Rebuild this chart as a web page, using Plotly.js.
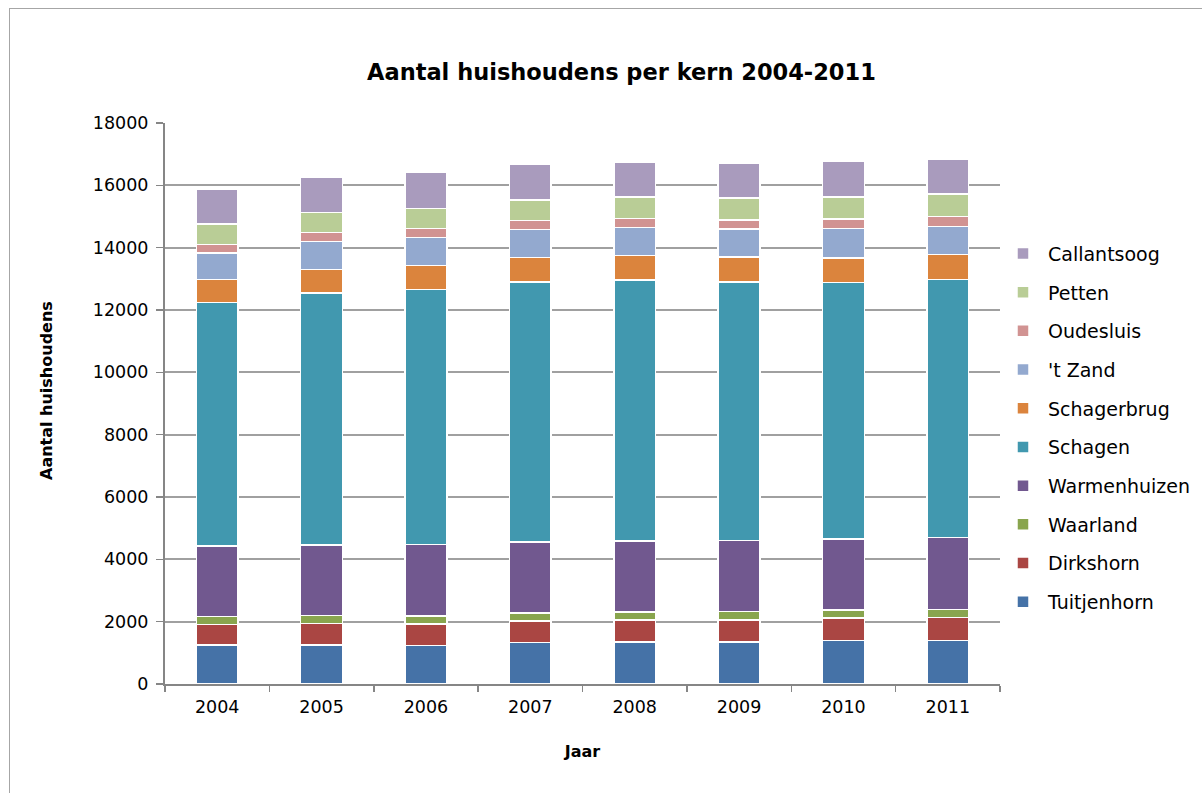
<!DOCTYPE html>
<html>
<head>
<meta charset="utf-8">
<script src="https://cdn.plot.ly/plotly-3.0.1.min.js"></script>
<style>
  html, body { margin: 0; padding: 0; background: #fff; }
  #frame { position: absolute; left: 9px; top: 8px; width: 1300px; height: 900px; border: 1px solid #a6a6a6; box-sizing: border-box; }
  #chart { position: absolute; left: 0; top: 0; width: 1202px; height: 793px; }
</style>
</head>
<body>
<div id="frame"></div>
<div id="chart"></div>
<script>
const years = ['2004', '2005', '2006', '2007', '2008', '2009', '2010', '2011'];

const tuitjenhorn  = [1251, 1251, 1230, 1326, 1348, 1348, 1390, 1390];
const dirkshorn    = [664, 685, 695, 695, 706, 706, 728, 738];
const waarland     = [245, 257, 257, 257, 256, 267, 256, 268];
const warmenhuizen = [2268, 2267, 2299, 2278, 2278, 2278, 2278, 2310];
const schagen      = [7807, 8086, 8171, 8343, 8375, 8300, 8236, 8267];
const schagerbrug  = [738, 759, 771, 780, 780, 802, 781, 803];
const tZand        = [856, 888, 898, 899, 899, 898, 941, 909];
const oudesluis    = [279, 300, 289, 299, 288, 289, 310, 310];
const petten       = [652, 641, 653, 653, 696, 706, 706, 727];
const callantsoog  = [1113, 1123, 1143, 1155, 1123, 1123, 1133, 1123];

const seriesNames  = ['Tuitjenhorn', 'Dirkshorn', 'Waarland', 'Warmenhuizen', 'Schagen', 'Schagerbrug', "'t Zand", 'Oudesluis', 'Petten', 'Callantsoog'];
const seriesValues = [tuitjenhorn, dirkshorn, waarland, warmenhuizen, schagen, schagerbrug, tZand, oudesluis, petten, callantsoog];
const seriesColors = ['#4572A7', '#AA4643', '#89A54E', '#71588F', '#4198AF', '#DB843D', '#93A9CF', '#D19392', '#B9CD96', '#A99BBD'];

const FONT = 'DejaVu Sans, Verdana, sans-serif';

const traces = seriesNames.map((name, i) => ({
  type: 'bar',
  name: name,
  x: years,
  y: seriesValues[i],
  legendgroup: 'g' + i,
  legendrank: 1000 - i,
  marker: { color: seriesColors[i], line: { color: '#ffffff', width: 1.5 } }
}));

const layout = {
  width: 1202,
  height: 793,
  paper_bgcolor: 'rgba(0,0,0,0)',
  plot_bgcolor: 'rgba(0,0,0,0)',
  margin: { l: 165, r: 202, t: 123, b: 109, pad: 0, autoexpand: false },
  barmode: 'stack',
  bargap: 0.6,
  showlegend: true,
  font: { family: FONT, size: 16, color: '#000' },
  title: {
    text: '<b>Aantal huishoudens per kern 2004-2011</b>',
    font: { family: FONT, size: 22.5, color: '#000' },
    x: 0.517, xanchor: 'center',
    y: 0.909, yanchor: 'middle'
  },
  xaxis: {
    type: 'category',
    tickson: 'boundaries',
    ticks: 'outside',
    ticklen: 6,
    tickcolor: '#868686',
    tickwidth: 1.5,
    ticklabelstandoff: 6,
    showline: true,
    linecolor: '#868686',
    linewidth: 2,
    showgrid: false,
    tickfont: { family: FONT, size: 17.5, color: '#000' },
    title: { text: '<b>Jaar</b>', font: { family: FONT, size: 16, color: '#000' }, standoff: 30 },
    automargin: false
  },
  yaxis: {
    range: [0, 18000],
    dtick: 2000,
    tickformat: 'd',
    ticks: 'outside',
    ticklen: 7,
    tickcolor: '#868686',
    tickwidth: 1.5,
    ticklabelstandoff: 4,
    showline: true,
    linecolor: '#868686',
    linewidth: 2,
    showgrid: true,
    gridcolor: '#a0a0a0',
    gridwidth: 2,
    zeroline: false,
    tickfont: { family: FONT, size: 17.5, color: '#000' },
    automargin: false
  },
  annotations: [{
    text: '<b>Aantal huishoudens</b>',
    xref: 'paper', yref: 'paper',
    x: -0.1413, y: 0.5223,
    xanchor: 'center', yanchor: 'middle',
    textangle: -90,
    showarrow: false,
    font: { family: FONT, size: 16, color: '#000' }
  }],
  legend: {
    traceorder: 'grouped',
    tracegroupgap: 11,
    itemwidth: 40,
    x: 0.9976, xanchor: 'left',
    y: 0.457, yanchor: 'middle',
    font: { family: FONT, size: 19, color: '#000' },
    bgcolor: 'rgba(0,0,0,0)'
  }
};

Plotly.newPlot('chart', traces, layout, { displayModeBar: false, staticPlot: true });
</script>
</body>
</html>
